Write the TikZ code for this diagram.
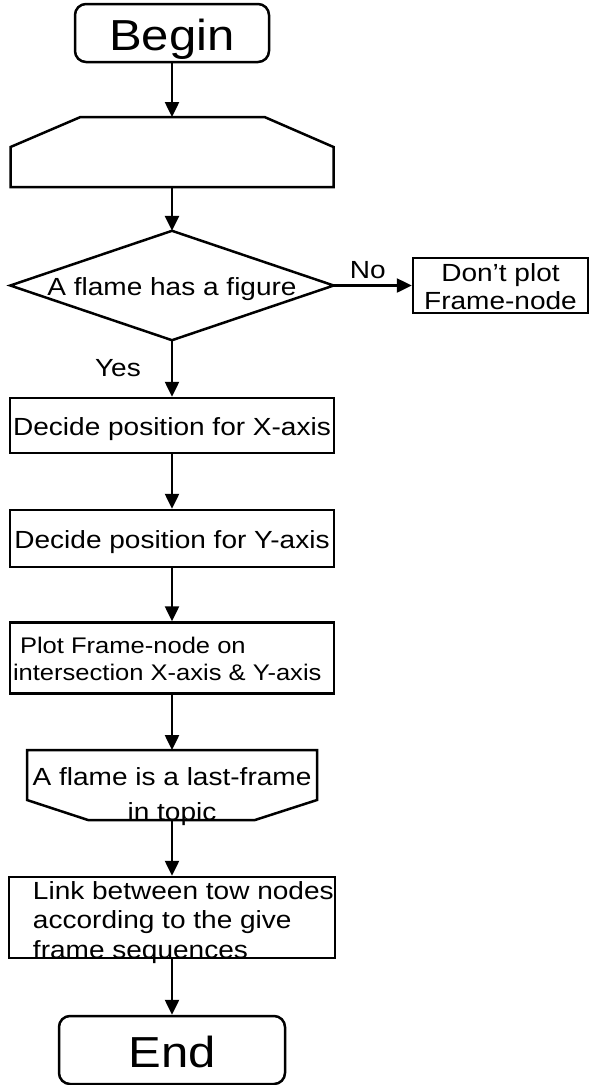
\documentclass[tikz,border=0pt]{standalone}
\usepackage{fontspec}
\setmainfont{Liberation Sans}[FakeStretch=1.13]
\usetikzlibrary{arrows.meta,calc}
\newcommand{\lines}[2]{\begin{tabular}[t]{@{}#1@{}}#2\end{tabular}}
\begin{document}
\begin{tikzpicture}[x=1pt,y=-1pt]
\tikzset{
  flow/.style={line width=2.5pt, -{Triangle[length=15pt,width=14pt]}},
  body/.style={font=\fontsize{24.8}{29.5}\selectfont},
  box/.style={draw, line width=2.5pt, rectangle, inner sep=0pt, body},
  oneline/.style={text height=19pt, text depth=0pt},
  term/.style={draw, line width=2.5pt, rounded corners=11pt, inner sep=0pt,
               font=\fontsize{43.4}{46}\selectfont, text height=35pt, text depth=0pt},
  outline/.style={draw, line width=2.5pt, line join=miter},
  lbl/.style={body, inner sep=0pt},
  frame/.style={inner sep=0pt, outer sep=0pt}
}
\useasboundingbox (0,0) rectangle (591,1085);

% terminal: start
\node[term, minimum width=194pt, minimum height=58pt] (begin) at (172,33) {Begin};

% loop start (chamfered top)
\node[frame, minimum width=323pt, minimum height=70pt] (lstart) at (172,152) {};
\draw[outline] ($(lstart.north west)+(70,0)$) -- ($(lstart.north east)+(-69,0)$)
  -- ($(lstart.north east)+(0,30)$) -- (lstart.south east) -- (lstart.south west)
  -- ($(lstart.north west)+(0,30)$) -- cycle;

% decision
\node[lbl, oneline, minimum width=323pt, minimum height=109pt] (dec) at (172,285.5) {A flame has a figure};
\draw[outline] (dec.north) -- (dec.east) -- (dec.south) -- (dec.west) -- cycle;

\node[box, minimum width=175pt, minimum height=55pt, text height=16pt, text depth=25pt,
      font=\fontsize{24.8}{28}\selectfont] (noplot) at (500.5,285.5)
  {\lines{c}{Don’t plot\\Frame-node}};

% processing steps
\node[box, oneline, minimum width=324pt, minimum height=55pt] (decx) at (172,425.5)
  {Decide position for X-axis};
\node[box, oneline, minimum width=324pt, minimum height=57pt] (decy) at (172,538.5)
  {Decide position for Y-axis};
\node[box, minimum width=324pt, minimum height=71pt, text height=16pt, text depth=26pt,
      font=\fontsize{22.6}{27}\selectfont] (plot) at (172,658)
  {\makebox[324pt][l]{\hspace*{3pt}\lines{l}{\hspace*{7pt}Plot Frame-node on\\intersection X-axis \& Y-axis}}};

% loop end (chamfered bottom)
\node[frame, body, minimum width=290pt, minimum height=70pt, text height=20pt, text depth=20pt,
      font=\fontsize{24.8}{35}\selectfont] (lend) at (172,785)
  {\lines{c}{A flame is a last-frame\\in topic}};
\draw[outline] (lend.north west) -- (lend.north east) -- ($(lend.south east)+(0,-20)$)
  -- ($(lend.south)+(83,0)$) -- ($(lend.south)+(-84,0)$)
  -- ($(lend.south west)+(0,-20)$) -- cycle;

\node[box, minimum width=326pt, minimum height=81pt, text height=20pt, text depth=57pt]
  (link) at (172,917.5)
  {\makebox[326pt][l]{\hspace*{24pt}\lines{l}{Link between tow nodes\\according to the give\\frame sequences}}};

% terminal: finish
\node[term, minimum width=226pt, minimum height=68pt] (end) at (172,1050) {End};

% connectors
\draw[flow] (begin.south) -- (lstart.north);
\draw[flow] (lstart.south) -- (dec.north);
\draw[flow] (dec.east) -- (noplot.west) node[lbl, midway, above=6pt, xshift=-5pt] {No};
\draw[flow] (dec.south) -- (decx.north) node[lbl, midway, left=30pt] {Yes};
\draw[flow] (decx.south) -- (decy.north);
\draw[flow] (decy.south) -- (plot.north);
\draw[flow] (plot.south) -- (lend.north);
\draw[flow] (lend.south) -- (link.north);
\draw[flow] (link.south) -- (end.north);
\end{tikzpicture}
\end{document}
